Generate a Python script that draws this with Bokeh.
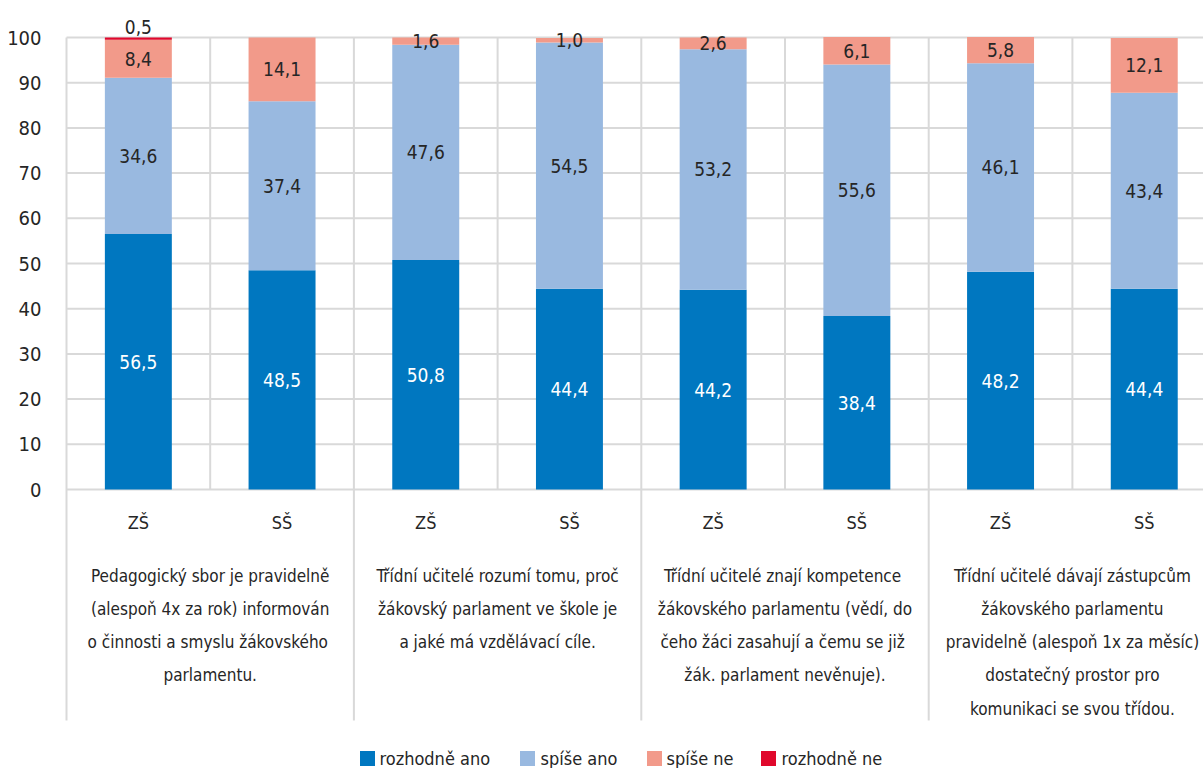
from bokeh.plotting import figure
from bokeh.models import ColumnDataSource
from bokeh.embed import file_html
from bokeh.resources import INLINE
from bokeh.core.properties import value

# ---------------- data ----------------
bars = ["ZŠ", "SŠ", "ZŠ", "SŠ", "ZŠ", "SŠ", "ZŠ", "SŠ"]
rozhodne_ano = [56.5, 48.5, 50.8, 44.4, 44.2, 38.4, 48.2, 44.4]
spise_ano = [34.6, 37.4, 47.6, 54.5, 53.2, 55.6, 46.1, 43.4]
spise_ne = [8.4, 14.1, 1.6, 1.0, 2.6, 6.1, 5.8, 12.1]
rozhodne_ne = [0.5, 0.0, 0.0, 0.0, 0.0, 0.0, 0.0, 0.0]
series_names = ["rozhodně ano", "spíše ano", "spíše ne", "rozhodně ne"]
series_colors = ["#0077C0", "#99B9E0", "#F29A8A", "#E0082C"]
label_colors = ["#FFFFFF", "#262626", "#262626", "#262626"]
groups = [
    ["Pedagogický sbor je pravidelně", "(alespoň 4x za rok) informován",
     "o činnosti a smyslu  žákovského", "parlamentu."],
    ["Třídní učitelé rozumí tomu, proč", "žákovský parlament ve škole je",
     "a jaké má vzdělávací cíle."],
    ["Třídní učitelé znají  kompetence", "žákovského parlamentu (vědí, do",
     "čeho žáci zasahují  a čemu se již", "žák. parlament nevěnuje)."],
    ["Třídní učitelé dávají zástupcům", "žákovského parlamentu",
     "pravidelně (alespoň 1x za měsíc)", "dostatečný prostor pro",
     "komunikaci se svou třídou."],
]
y_ticks = list(range(0, 101, 10))

FONT = "DejaVu Sans Condensed, Roboto Condensed, Liberation Sans Narrow, Roboto"
TXT = "#262626"
GRID = "#D9D9D9"

# ---------------- geometry (page pixel calibration) ----------------
W, H = 1203, 768
PX0, SLOT = 66.0, 143.7          # frame left, slot width (px)
Y0PX, PPU = 489.0, 4.52          # page y of value 0, px per unit
def vy(py):
    return (Y0PX - py) / PPU
def vx(px):
    return (px - PX0) / SLOT

p = figure(width=W, height=H, output_backend="svg", toolbar_location=None,
           x_range=(vx(0), vx(W)), y_range=(vy(H), vy(0)),
           min_border=0)
p.outline_line_color = None
p.axis.visible = False
p.grid.visible = False

n = len(bars)
# horizontal gridlines
p.segment(x0=[0] * len(y_ticks), y0=y_ticks, x1=[vx(W)] * len(y_ticks), y1=y_ticks,
          line_color=GRID, line_width=2)
# vertical separators
bx = list(range(n + 1))
by0 = [vy(720) if i % 2 == 0 else 0 for i in bx]
p.segment(x0=bx, y0=by0, x1=bx, y1=[100] * (n + 1), line_color=GRID, line_width=2)

# y tick labels
p.text(x=[vx(41)] * len(y_ticks), y=y_ticks, text=[str(t) for t in y_ticks],
       text_font=value(FONT), text_font_size="20px", text_color=TXT,
       text_align="right", text_baseline="middle")

# bars
xs = [i + 0.5 for i in range(n)]
cols = [rozhodne_ano, spise_ano, spise_ne, rozhodne_ne]
keys = ["a", "b", "c", "d"]
src = ColumnDataSource(dict(x=xs, a=rozhodne_ano, b=spise_ano, c=spise_ne, d=rozhodne_ne))
p.vbar_stack(keys, x="x", width=0.466, source=src, color=series_colors, line_color=None)

# data labels
for k, col in enumerate(cols):
    lx, ly, lt = [], [], []
    for i in range(n):
        v = col[i]
        if v <= 0:
            continue
        base = sum(cols[j][i] for j in range(k))
        lx.append(xs[i])
        if k == 3:
            ly.append(base + v + 2.4)
        else:
            ly.append(base + v / 2)
        lt.append(f"{v:.1f}".replace(".", ","))
    p.text(x=lx, y=ly, text=lt, text_font=value(FONT), text_font_size="19px",
           text_color=label_colors[k], text_align="center", text_baseline="middle")

# category labels
p.text(x=xs, y=[vy(522)] * n, text=bars, text_font=value(FONT), text_font_size="18px",
       text_color=TXT, text_align="center", text_baseline="middle")

# group labels (centred on each group)
gx, gy, gt = [], [], []
for g, lines in enumerate(groups):
    for li, line in enumerate(lines):
        gx.append(2 * g + 1)
        gy.append(vy(575 + 33.3 * li))
        gt.append(line)
p.text(x=gx, y=gy, text=gt, text_font=value(FONT), text_font_size="17px",
       text_color=TXT, text_align="center", text_baseline="middle")

# legend
leg_sq_px = [367, 527, 654, 768]
leg_tx_px = [379, 540, 666, 781]
ly_leg = vy(758)
p.rect(x=[vx(v) for v in leg_sq_px], y=[ly_leg] * 4, width=15, height=15,
       width_units="screen", height_units="screen", color=series_colors, line_color=None)
p.text(x=[vx(v) for v in leg_tx_px], y=[ly_leg] * 4, text=series_names,
       text_font=value(FONT), text_font_size="18px", text_color=TXT,
       text_align="left", text_baseline="middle")

open("out.html", "w").write(file_html(p, INLINE))
